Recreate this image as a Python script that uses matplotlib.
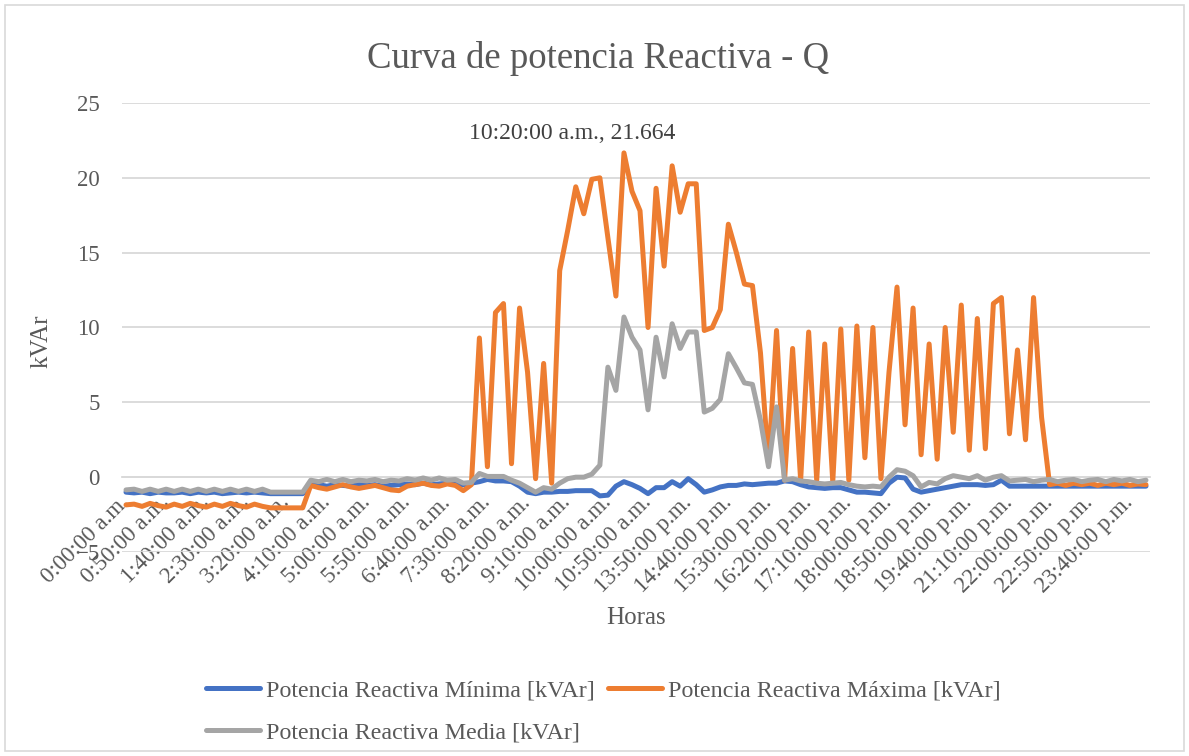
import matplotlib
matplotlib.use('Agg')
import matplotlib.pyplot as plt
from matplotlib.patches import Rectangle
import numpy as np

# Potencia reactiva Q, one value every 10 min (kVAr)
q_min = [-1.0, -1.05, -1.0, -1.1, -1.0, -1.05, -1.05, -1.0, -1.1, -1.0, -1.05, -1.0,
         -1.1, -1.05, -1.0, -1.05, -1.0, -1.05, -1.1, -1.1, -1.1, -1.1, -1.1,
         -0.55, -0.5, -0.6, -0.5, -0.55, -0.6, -0.5, -0.55, -0.5, -0.6, -0.55, -0.5,
         -0.45, -0.5, -0.4, -0.5, -0.45, -0.4, -0.45, -0.5, -0.4,
         -0.3, -0.15, -0.25, -0.25, -0.3, -0.6, -1.0, -1.1, -1.0, -1.0, -0.95, -0.95,
         -0.9, -0.9, -0.9, -1.25, -1.2,
         -0.6, -0.3, -0.5, -0.75, -1.1, -0.7, -0.7, -0.3, -0.6, -0.1, -0.5, -1.0,
         -0.85, -0.65, -0.55, -0.55, -0.45, -0.5, -0.45,
         -0.4, -0.4, -0.25, -0.3, -0.5, -0.65, -0.7, -0.75, -0.7, -0.7, -0.85, -1.0,
         -1.0, -1.05, -1.1, -0.4, 0.0, -0.05, -0.8, -1.0,
         -0.9, -0.8, -0.7, -0.6, -0.5, -0.5, -0.5, -0.55, -0.5, -0.2, -0.6, -0.6,
         -0.6, -0.6, -0.6, -0.6, -0.6, -0.6, -0.6, -0.6, -0.6, -0.6, -0.6, -0.6,
         -0.6, -0.6, -0.6, -0.6]

q_max = [-1.85, -1.8, -1.95, -1.75, -1.9, -2.0, -1.8, -1.95, -1.75, -1.9, -2.0, -1.8,
         -1.95, -1.75, -1.9, -2.0, -1.8, -1.95, -2.05, -2.05, -2.05, -2.05, -2.05,
         -0.55, -0.7, -0.8, -0.65, -0.5, -0.65, -0.75, -0.65, -0.55, -0.7, -0.85, -0.9,
         -0.6, -0.5, -0.4, -0.55, -0.6, -0.45, -0.55, -0.9, -0.5,
         9.3, 0.7, 11.0, 11.6, 0.9, 11.3, 7.0, -0.1, 7.6, -0.4, 13.8, 16.5,
         19.4, 17.6, 19.9, 20.0, 16.0,
         12.1, 21.664, 19.1, 17.8, 10.0, 19.3, 14.1, 20.8, 17.7, 19.6, 19.6, 9.8,
         10.0, 11.2, 16.9, 15.0, 12.9, 12.8, 8.3,
         0.9, 9.8, -0.2, 8.6, -0.2, 9.7, -0.2, 8.9, -0.3, 9.9, -0.2, 10.1,
         1.3, 10.0, -0.1, 7.0, 12.7, 3.5, 11.3, 1.5,
         8.9, 1.2, 10.0, 3.0, 11.5, 1.8, 10.6, 1.9, 11.6, 12.0, 2.9, 8.5,
         2.5, 12.0, 4.0, -0.5, -0.4, -0.55, -0.4, -0.5, -0.4, -0.55, -0.4, -0.5,
         -0.4, -0.55, -0.45, -0.5]

q_media = [-0.85, -0.8, -0.95, -0.8, -0.95, -0.8, -0.95, -0.8, -0.95, -0.8, -0.95, -0.8,
           -0.95, -0.8, -0.95, -0.8, -0.95, -0.8, -1.0, -1.0, -1.0, -1.0, -1.0,
           -0.2, -0.3, -0.15, -0.3, -0.15, -0.3, -0.2, -0.25, -0.15, -0.3, -0.2, -0.25,
           -0.1, -0.2, -0.05, -0.2, -0.05, -0.2, -0.15, -0.4, -0.35,
           0.25, 0.05, 0.05, 0.05, -0.2, -0.4, -0.7, -1.0, -0.7, -0.8, -0.4, -0.1,
           0.0, 0.0, 0.2, 0.8, 7.35,
           5.8, 10.7, 9.35, 8.5, 4.5, 9.35, 6.7, 10.25, 8.6, 9.7, 9.7, 4.35,
           4.6, 5.2, 8.25, 7.3, 6.3, 6.2, 3.8,
           0.7, 4.7, -0.2, -0.1, -0.25, -0.3, -0.4, -0.45, -0.4, -0.35, -0.5, -0.6,
           -0.65, -0.6, -0.65, 0.0, 0.5, 0.4, 0.1, -0.65,
           -0.35, -0.45, -0.1, 0.1, 0.0, -0.1, 0.1, -0.2, 0.0, 0.1, -0.25, -0.2,
           -0.15, -0.3, -0.2, -0.15, -0.3, -0.2, -0.15, -0.3, -0.2, -0.15, -0.3, -0.15,
           -0.25, -0.15, -0.3, -0.2]

# one label every 5 samples
tick_labels = ["0:00:00 a.m.", "0:50:00 a.m.", "1:40:00 a.m.", "2:30:00 a.m.",
               "3:20:00 a.m.", "4:10:00 a.m.", "5:00:00 a.m.", "5:50:00 a.m.",
               "6:40:00 a.m.", "7:30:00 a.m.", "8:20:00 a.m.", "9:10:00 a.m.",
               "10:00:00 a.m.", "10:50:00 a.m.", "13:50:00 p.m.", "14:40:00 p.m.",
               "15:30:00 p.m.", "16:20:00 p.m.", "17:10:00 p.m.", "18:00:00 p.m.",
               "18:50:00 p.m.", "19:40:00 p.m.", "21:10:00 p.m.", "22:00:00 p.m.",
               "22:50:00 p.m.", "23:40:00 p.m."]

peak_idx = 62
peak_label = "10:20:00 a.m."

BLUE = "#4472C4"
ORANGE = "#ED7D31"
GREY = "#A5A5A5"
TEXT = "#595959"
GRID = "#D9D9D9"

plt.rcParams['font.family'] = ['Liberation Serif', 'DejaVu Serif']

fig = plt.figure(figsize=(11.89, 7.56), dpi=100)
ax = fig.add_axes([0.1026, 0.2698, 0.8646, 0.594])

x = np.arange(len(q_max))
kw = dict(linewidth=3.6, solid_capstyle='round', solid_joinstyle='round')
l1, = ax.plot(x, q_min, color=BLUE, zorder=3, **kw)
l2, = ax.plot(x, q_max, color=ORANGE, zorder=4, **kw)
l3, = ax.plot(x, q_media, color=GREY, zorder=5, **kw)

ax.set_xlim(-0.5, len(x) - 0.5)
ax.set_ylim(-5, 25)
ax.set_yticks(np.arange(-5, 26, 5))
ax.yaxis.grid(True, color=GRID, linewidth=1.3)
ax.set_axisbelow(True)

for s in ['top', 'right', 'left']:
    ax.spines[s].set_visible(False)
# Excel puts the category axis where y = 0
ax.spines['bottom'].set_position(('data', 0))
ax.spines['bottom'].set_color(GRID)
ax.spines['bottom'].set_linewidth(1.3)

ax.set_xticks(np.arange(0, len(x), 5))
ax.set_xticklabels(tick_labels, rotation=45, ha='right', va='center',
                   rotation_mode='anchor')
ax.tick_params(axis='x', length=0, pad=16, labelsize=16.5, labelcolor=TEXT)
ax.tick_params(axis='y', length=0, pad=16, labelsize=16.5, labelcolor=TEXT)

# data label of the maximum
ax.annotate(f"{peak_label}, {q_max[peak_idx]:.3f}", xy=(peak_idx, q_max[peak_idx]),
            xytext=(-37, 14), textcoords='offset points', ha='center', va='center',
            fontsize=17, color='#404040')

fig.text(0.503, 0.923, "Curva de potencia Reactiva - Q", ha='center', va='center',
         fontsize=26.5, color=TEXT)
fig.text(42 / 1189, 1 - 341 / 756, "kVAr", rotation=90, ha='center', va='center',
         fontsize=18, color=TEXT)
fig.text(636 / 1189, 1 - 618 / 756, "Horas", ha='center', va='center',
         fontsize=18, color=TEXT)

# column-major fill: Min / Media in the first column, Max in the second
leg = fig.legend([l1, l3, l2],
                 ["Potencia Reactiva Mínima [kVAr]", "Potencia Reactiva Media [kVAr]",
                  "Potencia Reactiva Máxima [kVAr]"],
                 loc='upper left', bbox_to_anchor=(206 / 1189, 0.1015), ncol=2,
                 frameon=False, fontsize=17.3, handlelength=2.25, handletextpad=0.25,
                 columnspacing=0.54, labelspacing=0.86, borderpad=0, borderaxespad=0)
for t in leg.get_texts():
    t.set_color(TEXT)

fig.patches.append(Rectangle((0.004, 0.006), 0.992, 0.988, transform=fig.transFigure,
                             fill=False, edgecolor=GRID, linewidth=1.2))

fig.savefig("out.png", dpi=100)
